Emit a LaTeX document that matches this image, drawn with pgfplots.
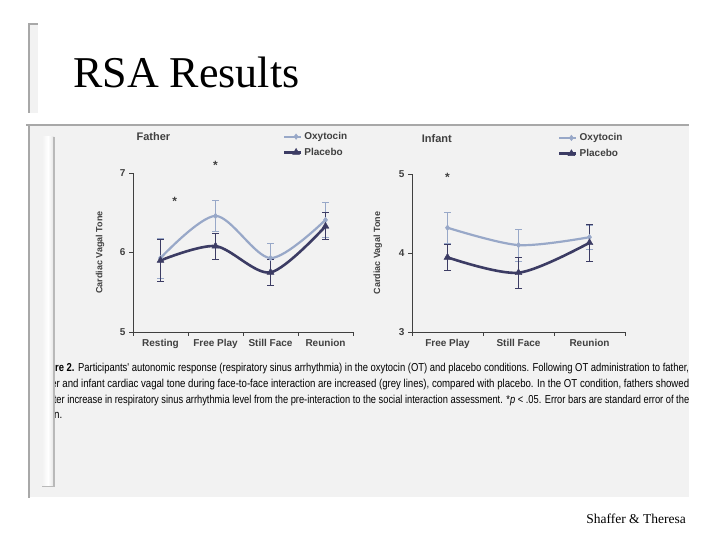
\documentclass[border=0pt]{standalone}
\usepackage{pgfplots}
\pgfplotsset{compat=1.18}
\usepackage{fontspec}
\usepackage{graphicx}
\setmainfont{Liberation Serif}
\newfontfamily\arialf{Liberation Sans}
\definecolor{oxy}{HTML}{98A8C8}
\definecolor{plac}{HTML}{3C3C64}
\definecolor{txt}{HTML}{404040}
\definecolor{panel}{HTML}{F2F2F2}
\definecolor{edge}{HTML}{A8A8A8}

\pgfplotstableread{
x y e
0 5.93 0.25
1 6.46 0.20
2 5.93 0.18
3 6.41 0.22
}\fatheroxy
\pgfplotstableread{
x y e
0 5.90 0.26
1 6.08 0.16
2 5.75 0.16
3 6.33 0.17
}\fatherplac
\pgfplotstableread{
x y e
0 4.32 0.20
1 4.10 0.20
2 4.20 0.15
}\infantoxy
\pgfplotstableread{
x y e
0 3.945 0.17
1 3.75 0.20
2 4.13 0.23
}\infantplac

\pgfplotsset{
 rsa/.style={
  scale only axis, axis x line*=bottom, axis y line*=left, clip=false, enlargelimits=false,
  tick align=outside, major tick length=4pt, minor tick length=4pt,
  axis line style={txt, line width=0.7pt},
  every tick/.style={txt, line width=0.7pt},
  major x tick style={draw=none},
  tick label style={font=\arialf\bfseries\fontsize{10}{12}\selectfont, text=txt},
  /pgf/number format/assume math mode=true,
  ylabel={Cardiac Vagal Tone},
  ylabel style={font=\arialf\bfseries\fontsize{9}{11}\selectfont, text=txt, anchor=center},
  legend style={draw=none, fill=none, font=\arialf\bfseries\fontsize{10}{12}\selectfont, text=txt, inner sep=0pt, row sep=3pt, anchor=north west,
     /tikz/every even column/.append style={column sep=1pt}},
  legend cell align=left,
  legend image code/.code={\draw[##1, mark repeat=2, mark phase=2] plot coordinates {(0pt,0pt) (12pt,0pt) (17pt,0pt)};},
 },
 oxyline/.style={color=oxy, line width=2.2pt, smooth, mark=diamond*, mark size=2.8pt, mark options={solid, fill=oxy, line width=0.4pt},
   error bars/.cd, y dir=both, y explicit, error bar style={oxy, line width=0.7pt}, error mark options={rotate=90, oxy, mark size=3.5pt, line width=0.7pt}},
 placline/.style={color=plac, line width=2.6pt, smooth, mark=triangle*, mark size=4pt, mark options={solid, fill=plac, line width=0.4pt},
   error bars/.cd, y dir=both, y explicit, error bar style={plac, line width=0.7pt}, error mark options={rotate=90, plac, mark size=3.5pt, line width=0.7pt}},
}

\begin{document}
\begin{tikzpicture}
\useasboundingbox (0pt,0pt) rectangle (720pt,540pt);
% title box
\fill[panel] (29pt,427pt) rectangle (38pt,516pt);
\draw[edge, line width=1.5pt] (29pt,427pt) -- (29pt,516pt) -- (38pt,516pt);
\node[anchor=base west, inner sep=0pt, font=\fontsize{44}{48}\selectfont] at (73pt,452pt) {RSA Results};
% panel
\fill[panel] (29pt,43pt) rectangle (689pt,415pt);
\draw[edge, line width=2pt] (26pt,415pt) -- (689pt,415pt);
\draw[edge, line width=1.5pt] (29pt,42pt) -- (29pt,415pt);

% Father
\begin{axis}[rsa, at={(133pt,208pt)}, anchor=south west, width=220pt, height=159pt,
  xmin=-0.5, xmax=3.5, ymin=5, ymax=7, ytick={5,6,7},
  xtick={0,1,2,3}, xticklabels={Resting,Free Play,Still Face,Reunion},
  minor xtick={-0.5,0.5,1.5,2.5,3.5},
  ylabel style={at={(axis description cs:-0.15,0.5)}},
  legend style={at={(rel axis cs:0.68,1.27)}}]
\addplot[oxyline] table[x=x, y=y, y error=e] {\fatheroxy};
\addlegendentry{Oxytocin}
\addplot[placline] table[x=x, y=y, y error=e] {\fatherplac};
\addlegendentry{Placebo}
\node[anchor=west, font=\arialf\bfseries\fontsize{11}{13}\selectfont, text=txt] at (rel axis cs:0.0,1.226) {Father};
\node[anchor=base, font=\arialf\bfseries\fontsize{12}{13}\selectfont, text=txt] at (axis cs:1,7.05) {*};
\node[anchor=base, font=\arialf\bfseries\fontsize{12}{13}\selectfont, text=txt] at (axis cs:0.26,6.585) {*};
\end{axis}

% Infant
\begin{axis}[rsa, at={(412pt,208pt)}, anchor=south west, width=213pt, height=158pt,
  xmin=-0.5, xmax=2.5, ymin=3, ymax=5, ytick={3,4,5},
  xtick={0,1,2}, xticklabels={Free Play,Still Face,Reunion},
  minor xtick={-0.5,0.5,1.5,2.5},
  ylabel style={at={(axis description cs:-0.16,0.5)}},
  legend style={at={(rel axis cs:0.685,1.27)}}]
\addplot[oxyline] table[x=x, y=y, y error=e] {\infantoxy};
\addlegendentry{Oxytocin}
\addplot[placline] table[x=x, y=y, y error=e] {\infantplac};
\addlegendentry{Placebo}
\node[anchor=west, font=\arialf\bfseries\fontsize{11}{13}\selectfont, text=txt] at (rel axis cs:0.03,1.226) {Infant};
\node[anchor=base, font=\arialf\bfseries\fontsize{12}{13}\selectfont, text=txt] at (axis cs:0,4.91) {*};
\end{axis}

% caption (clipped at the strip on the left and the panel on the right)
\begin{scope}
\clip (54pt,100pt) rectangle (689pt,190pt);
\node[anchor=base west, inner sep=0pt] at (35pt,168pt) {\resizebox{654pt}{\height}{\arialf\fontsize{11.5}{13}\selectfont\textbf{Figure 2.} Participants' autonomic response (respiratory sinus arrhythmia) in the oxytocin (OT) and placebo conditions. Following OT administration to father,}};
\node[anchor=base west, inner sep=0pt] at (35pt,152pt) {\resizebox{654pt}{\height}{\arialf\fontsize{11.5}{13}\selectfont father and infant cardiac vagal tone during face-to-face interaction are increased (grey lines), compared with placebo. In the OT condition, fathers showed}};
\node[anchor=base west, inner sep=0pt] at (35pt,136pt) {\resizebox{654pt}{\height}{\arialf\fontsize{11.5}{13}\selectfont greater increase in respiratory sinus arrhythmia level from the pre-interaction to the social interaction assessment. *\textit{p} < .05. Error bars are standard error of the}};
\node[anchor=base west, inner sep=0pt] at (35pt,121pt) {\scalebox{0.85}[1]{\arialf\fontsize{11.5}{13}\selectfont mean.}};
\end{scope}

% marble strip
\shade[left color=gray!10, right color=gray!22, middle color=white] (42pt,53pt) rectangle (54pt,403pt);
\draw[gray!55, line width=1.3pt] (54pt,53pt) -- (54pt,403pt);
\draw[gray!55, line width=1pt] (42pt,53pt) -- (54pt,53pt);

% footer
\node[anchor=base east, inner sep=0pt, font=\fontsize{13.5}{15}\selectfont] at (686pt,16pt) {Shaffer \& Theresa};
\end{tikzpicture}
\end{document}
